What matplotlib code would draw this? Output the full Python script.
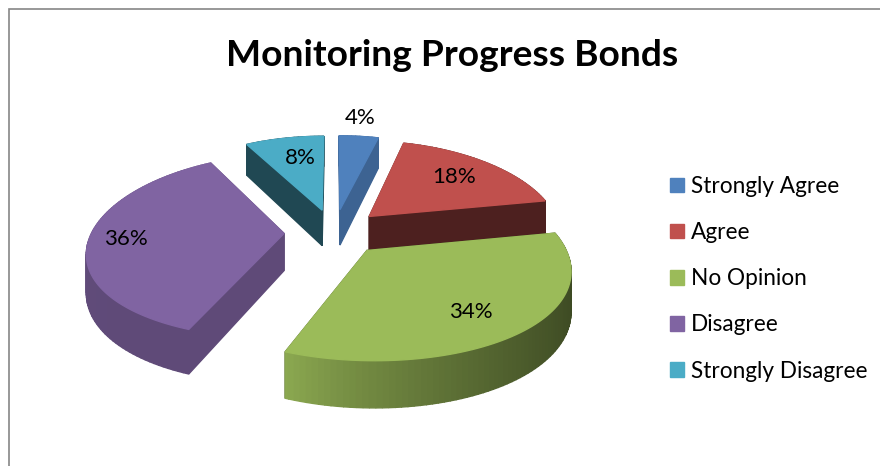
import numpy as np
import matplotlib
matplotlib.use("Agg")
import matplotlib.pyplot as plt
from matplotlib.patches import Patch, Rectangle

plt.rcParams['font.family'] = ['Lato', 'DejaVu Sans']

title = "Monitoring Progress Bonds"
categories = ["Strongly Agree", "Agree", "No Opinion", "Disagree", "Strongly Disagree"]
values = [4, 18, 34, 36, 8]
colors = ["#4F81BD", "#C0504D", "#9BBB59", "#8064A2", "#4BACC6"]

# side shading: factor on the flat faces, then rim factor at start / end of the slice
flat_shade = [0.77, 0.40, 0.40, 0.74, 0.42]
rim_shade = [(0.77, 0.77), (0.40, 0.40), (0.38, 0.90), (0.74, 0.84), (0.42, 0.42)]
# painter order, back to front
draw_order = [4, 0, 1, 3, 2]
label_pos = [(360, 118), (454, 177), (471, 312), (126, 239), (300, 158)]

# projection of the tilted pie, in pixels
CX, CY = 334, 232
R0, KY, DEPTH, PERSP_X, PERSP_Y = 192, 89.6, 37, 0.18, 0.137
EXPLODE = 0.26


def project(x, y, z=0.0):
    wx = 1 + PERSP_X * y
    wy = 1 + PERSP_Y * y
    return CX + R0 * x / wx, CY - KY * y / wy + DEPTH * z / wx


def shade(hex_color, f):
    rgb = np.array(matplotlib.colors.to_rgb(hex_color))
    return tuple(rgb * f)


def face(ax, xs, ys, z0, z1, color):
    px0, py0 = project(np.asarray(xs), np.asarray(ys), z0)
    px1, py1 = project(np.asarray(xs), np.asarray(ys), z1)
    ax.fill(np.r_[px0, px1[::-1]], np.r_[py0, py1[::-1]], color=color, lw=1.0)


def draw_slice(ax, start, end, i):
    mid = np.radians((start + end) / 2)
    ox, oy = EXPLODE * np.sin(mid), EXPLODE * np.cos(mid)
    ang = np.radians(np.arange(start, end + 0.01, 1.5))
    if ang[-1] < np.radians(end):
        ang = np.r_[ang, np.radians(end)]
    rx, ry = ox + np.sin(ang), oy + np.cos(ang)

    # side faces, furthest first
    sides = [(oy + 0.5 * np.cos(ang[0]), [ox, rx[0]], [oy, ry[0]], flat_shade[i]),
             (oy + 0.5 * np.cos(ang[-1]), [ox, rx[-1]], [oy, ry[-1]], flat_shade[i])]
    f0, f1 = rim_shade[i]
    for k in range(len(ang) - 1):
        t = k / max(len(ang) - 2, 1)
        # the light falls off quickly away from the front left
        f = f0 + (f1 - f0) * t ** 2.2
        sides.append((ry[k], rx[k:k + 2], ry[k:k + 2], f))
    sides.sort(key=lambda s: -s[0])
    for _, xs, ys, f in sides:
        face(ax, xs, ys, 0, 1, shade(colors[i], f))

    px, py = project(np.r_[ox, rx], np.r_[oy, ry])
    ax.fill(px, py, color=colors[i], lw=1.0)


fig = plt.figure(figsize=(8.8, 4.66), dpi=100)
ax = fig.add_axes([0, 0, 1, 1])
ax.set_xlim(0, 880)
ax.set_ylim(466, 0)
ax.axis("off")

ax.add_patch(Rectangle((9, 9), 900, 500, fc="white", ec="#868686", lw=1.2))

bounds = np.r_[0, np.cumsum(values)] / sum(values) * 360
for i in draw_order:
    draw_slice(ax, bounds[i], bounds[i + 1], i)

for v, (lx, ly) in zip(values, label_pos):
    ax.text(lx, ly, f"{v}%", ha="center", va="center", fontsize=16, color="black")

ax.text(452, 56, title, ha="center", va="center", fontsize=26.7, fontweight="bold")

handles = [Patch(color=c, label=n) for c, n in zip(colors, categories)]
ax.legend(handles=handles, loc="upper left", bbox_to_anchor=(670 / 880, 1 - 176 / 466),
          bbox_transform=fig.transFigure, frameon=False, fontsize=16.3, borderpad=0,
          borderaxespad=0, handlelength=0.62, handleheight=0.62, handletextpad=0.3,
          labelspacing=1.11)

fig.savefig("out.png", dpi=100)
